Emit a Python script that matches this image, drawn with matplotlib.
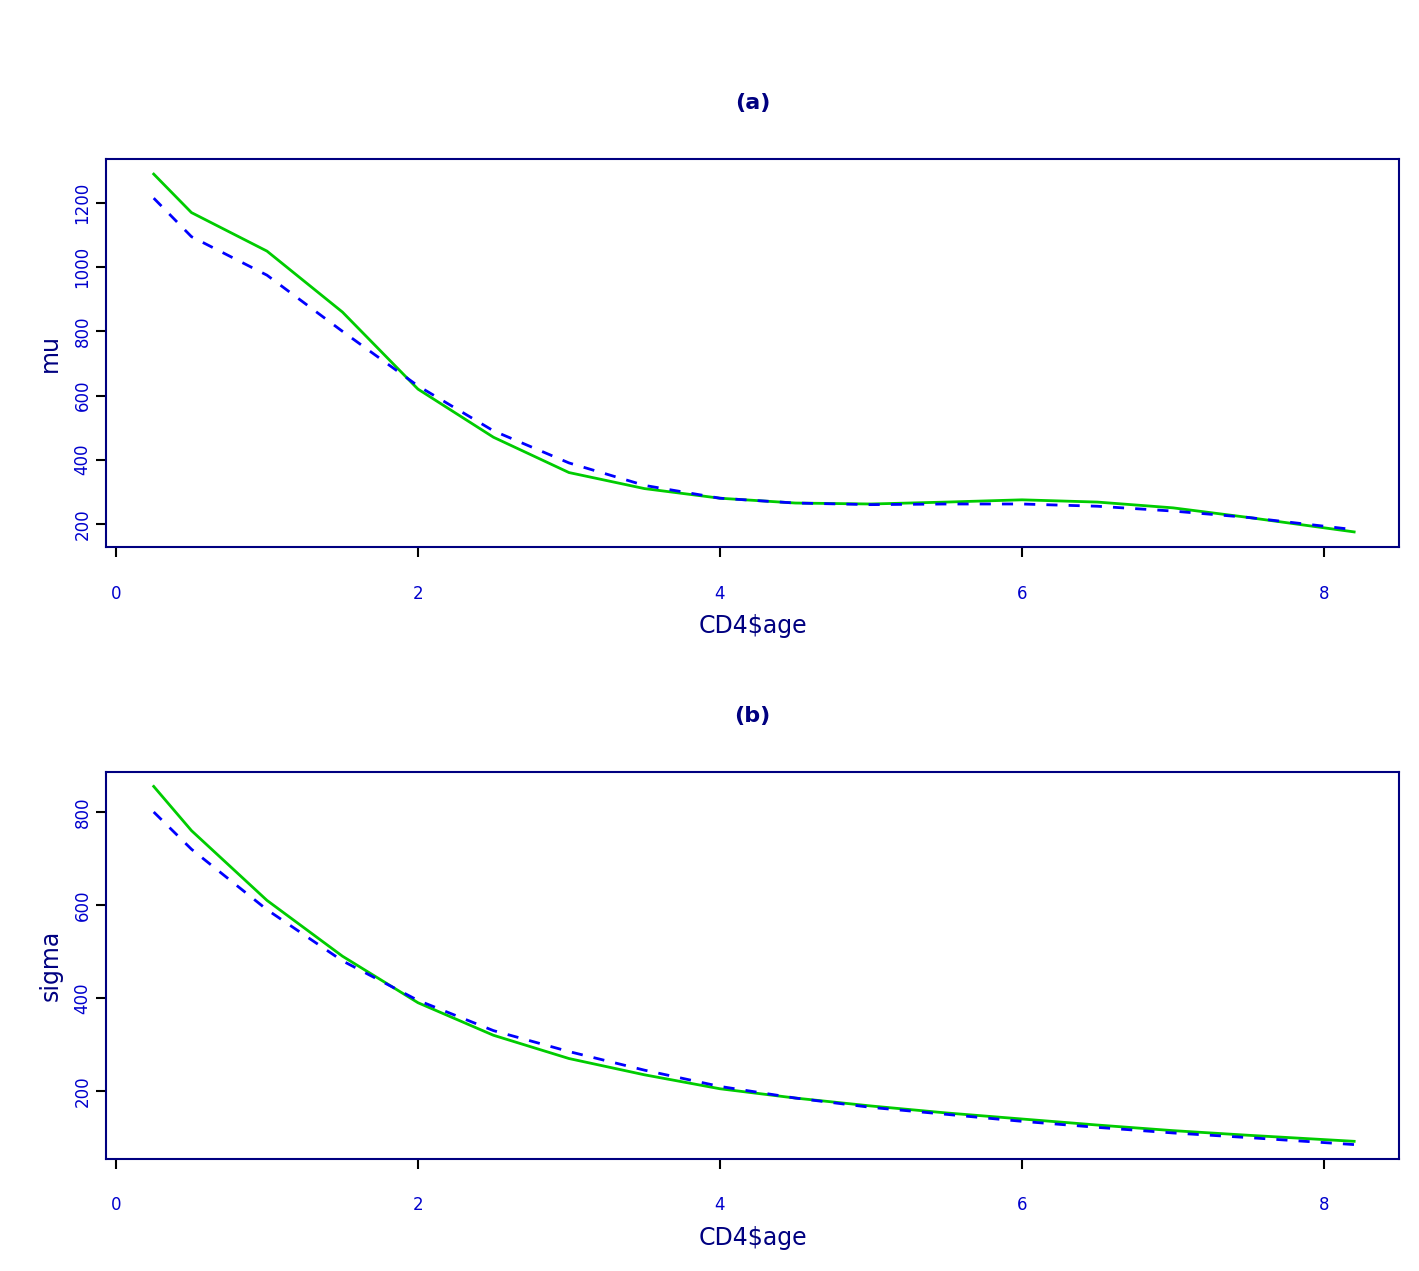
import matplotlib
matplotlib.use("Agg")
import matplotlib.pyplot as plt

age = [0.25, 0.5, 1.0, 1.5, 2.0, 2.5, 3.0, 3.5, 4.0, 4.5, 5.0, 5.5, 6.0, 6.5, 7.0, 7.5, 8.2]
mu_green = [1290, 1170, 1050, 860, 620, 470, 360, 310, 280, 265, 262, 268, 275, 268, 250, 220, 175]
mu_blue = [1215, 1095, 975, 800, 630, 490, 390, 320, 280, 265, 260, 262, 262, 255, 240, 220, 182]
sig_green = [855, 760, 610, 490, 390, 320, 270, 235, 205, 185, 168, 153, 140, 127, 115, 105, 92]
sig_blue = [800, 720, 590, 480, 395, 330, 285, 245, 210, 185, 165, 150, 135, 122, 110, 100, 85]

W, H = 1419, 1271
fig = plt.figure(figsize=(W/100, H/100), dpi=100)
navy = "#000080"
blue = "#0000CD"

def panel(top, bot, title, ylab, g, b, ylim, yticks):
    ax = fig.add_axes([106/W, 1-bot/H, (1399-106)/W, (bot-top)/H])
    ax.plot(age, g, color="#00CC00", lw=2)
    ax.plot(age, b, color="blue", lw=2, ls=(0, (4, 4)))
    ax.set_xlim(-0.066, 8.497)
    ax.set_ylim(*ylim)
    ax.set_xticks([0, 2, 4, 6, 8])
    ax.set_yticks(yticks)
    ax.set_yticklabels([str(t) for t in yticks], rotation=90, va="center")
    ax.tick_params(colors="black", labelcolor=blue, labelsize=12, length=7, width=1.5)
    ax.tick_params(axis="x", pad=20)
    for s in ax.spines.values():
        s.set_color(navy); s.set_linewidth(1.5)
    ax.set_title(title, color=navy, fontweight="bold", fontsize=16, pad=36)
    ax.set_xlabel("CD4\\$age", color=navy, fontsize=17, labelpad=8)
    ax.set_ylabel(ylab, color=navy, fontsize=17, labelpad=8)
    return ax

panel(159, 547, "(a)", "mu", mu_green, mu_blue, (128, 1337), [200, 400, 600, 800, 1000, 1200])
panel(772, 1159, "(b)", "sigma", sig_green, sig_blue, (54, 886), [200, 400, 600, 800])
fig.savefig("out.png", dpi=100)
